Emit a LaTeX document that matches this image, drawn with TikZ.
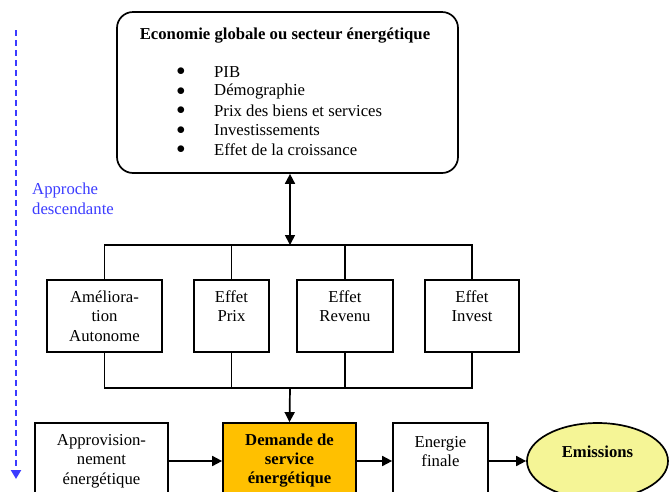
\documentclass[tikz,border=0pt]{standalone}
\usepackage{fontspec}
\setmainfont{Liberation Serif}
\usetikzlibrary{positioning,arrows.meta,shapes.geometric}

\definecolor{demandeorange}{RGB}{255,192,0}
\definecolor{emisyellow}{RGB}{245,245,150}
\definecolor{approblue}{RGB}{60,60,255}

\begin{document}
\begin{tikzpicture}[x=1pt, y=-1pt, font=\fontsize{16.7}{19.5}\selectfont,
  box/.style={draw, line width=1.7pt, align=center, inner sep=2pt},
  conn/.style={line width=1.7pt},
  arr/.style={line width=1.7pt, -{Triangle[length=10pt,width=10pt]}}]
  \useasboundingbox (0,0) rectangle (670,491);

  % bloc du haut
  \node[draw, line width=1.7pt, rounded corners=16pt, minimum width=341pt, minimum height=161pt] (eco) at (287.5,92.5) {};
  \node[font=\fontsize{16.7}{19.5}\selectfont\bfseries] (ecotitle) at (285,36) {Economie globale ou secteur énergétique};
  \foreach \t [count=\i] in {PIB, Démographie, Prix des biens et services, Investissements, Effet de la croissance}{
    \node (bul\i) at (181,52.5+19.5*\i) {$\bullet$};
    \node[anchor=west, inner sep=0pt] (item\i) at (214,52.5+19.5*\i) {\t};
  }

  % approche
  \coordinate (dtop) at (16,30);
  \coordinate (dbot) at (16,479);
  \draw[approblue, line width=2.2pt, dash pattern=on 6pt off 4pt, -{Triangle[length=9pt,width=10pt]}] (dtop) -- (dbot);
  \node[anchor=west, align=left, text=approblue, inner sep=0pt] (approche) at (32,199) {Approche\\descendante};

  % effets
  \node[box, minimum width=115pt, minimum height=72pt] (amelio) at (104.5,316) {Améliora-\\tion\\Autonome};
  \node[box, minimum width=75pt, minimum height=72pt] (prix) at (231.5,316) {Effet\\Prix\\\mbox{}};
  \node[box, minimum width=96pt, minimum height=72pt] (revenu) at (345,316) {Effet\\Revenu\\\mbox{}};
  \node[box, minimum width=94pt, minimum height=72pt] (invest) at (472,316) {Effet\\Invest\\\mbox{}};

  \coordinate (bustop) at (290,245);
  \coordinate (busbot) at (290,388);
  \draw[conn, {Triangle[length=10pt,width=10pt]}-{Triangle[length=10pt,width=10pt]}] (bustop |- eco.south) -- (bustop);
  \draw[conn] (amelio.north) |- (bustop) -| (invest.north);
  \draw[conn] (prix.north) -- (prix.north |- bustop);
  \draw[conn] (revenu.north) -- (revenu.north |- bustop);
  \draw[conn] (amelio.south) |- (busbot) -| (invest.south);
  \draw[conn] (prix.south) -- (prix.south |- busbot);
  \draw[conn] (revenu.south) -- (revenu.south |- busbot);

  % rangee du bas
  \node[box, minimum width=133pt, minimum height=76pt] (appro) at (101.5,461) {Approvision-\\nement\\énergétique};
  \node[box, fill=demandeorange, font=\fontsize{16.7}{19}\selectfont\bfseries, minimum width=133pt, minimum height=76pt] (demande) at (289.5,461) {Demande de\\service\\énergétique};
  \node[box, minimum width=95pt, minimum height=76pt] (energie) at (440.5,461) {Energie\\finale\\\mbox{}};
  \node[draw, ellipse, line width=1.7pt, fill=emisyellow, align=center, font=\fontsize{16.7}{19.5}\selectfont\bfseries, minimum width=141pt, minimum height=76pt, inner sep=0pt] (emis) at (597.5,461) {Emissions\\\mbox{}};

  \draw[arr] (busbot) -- (demande.north);
  \draw[arr] (appro) -- (demande);
  \draw[arr] (demande) -- (energie);
  \draw[arr] (energie) -- (emis);
\end{tikzpicture}
\end{document}
